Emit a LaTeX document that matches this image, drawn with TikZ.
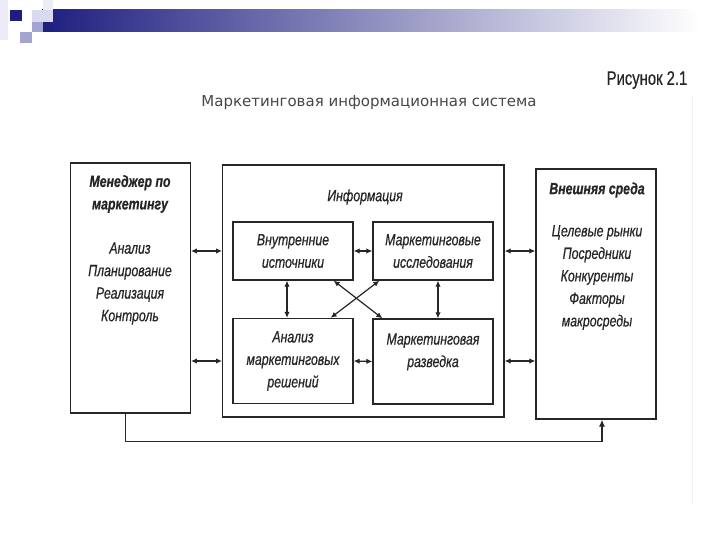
\documentclass[tikz,border=0pt]{standalone}
\usepackage{fontspec}
\usepackage{tikz}
\usepackage{xcolor}
\setmainfont{Liberation Sans}
\newfontfamily\uzki[FakeStretch=0.76, FakeBold=0.5]{Liberation Sans}
\newfontfamily\tytulfont{DejaVu Sans}
\usetikzlibrary{arrows.meta}
\definecolor{tusz}{HTML}{262626}
\definecolor{granat}{HTML}{1E1E80}
\definecolor{lilaA}{HTML}{DADAEE}
\definecolor{lilaB}{HTML}{A4A4D2}
\definecolor{lilaC}{HTML}{ECECF6}
\definecolor{szary}{HTML}{A8A8BE}

\begin{document}
\begin{tikzpicture}[
  x=1pt, y=-1pt,
  font=\uzki\itshape\fontsize{16.2}{22.5}\selectfont,
  ramka/.style={draw=tusz, line width=1.3pt, minimum width=120pt, inner sep=0},
  opis/.style={text=tusz, align=center},
  naglowek/.style={opis, font=\uzki\bfseries\itshape\fontsize{16.2}{22.5}\selectfont},
  strz/.style={draw=tusz, line width=1.2pt, {Latex[length=6pt,width=5.5pt]}-{Latex[length=6pt,width=5.5pt]}},
]
\fill[white] (0,0) rectangle (720,540);
\useasboundingbox (0,0) rectangle (720,540);
% Pasek u gory
\fill[lilaC] (0,0) rectangle (8,40);
\shade[left color=granat, middle color=szary, right color=white] (42,10) rectangle (700,32);
\fill[lilaC] (43,0) rectangle (53,10);
\fill[lilaA] (32,10) rectangle (53,22);
\fill[lilaB] (32,22) rectangle (43,32);
\fill[lilaB] (20,32) rectangle (32,43);
\fill[granat] (10,10) rectangle (22,21);
\draw[gray!10, line width=1pt] (692,95) -- (692,505);
% Tytul
\node[font=\uzki\fontsize{19.5}{22}\selectfont, text=tusz] (rys) at (647,80) {Рисунок 2.1};
\node[font=\tytulfont\fontsize{15}{17}\selectfont, text=tusz!85] (tytul) at (369,103) {Маркетинговая информационная система};
% Bloki zewnetrzne
\node[ramka, minimum height=250pt] (mgr) at (130.3,288) {};
\node[ramka, minimum width=281.3pt, minimum height=252pt] (info) at (363.3,291) {};
\node[ramka, minimum height=250pt] (env) at (596,294) {};
\node[naglowek] (mgrT) at (130,194) {Менеджер по\\маркетингу};
\node[opis] (mgrL) at (130,283.5) {Анализ\\Планирование\\Реализация\\Контроль};
\node[naglowek] (envT) at (597,190) {Внешняя среда};
\node[opis] (envL) at (597,277.5) {Целевые рынки\\Посредники\\Конкуренты\\Факторы\\макросреды};
\node[opis] (infoT) at (365,197) {Информация};
% Bloki wewnetrzne
\node[ramka, opis, minimum height=58pt] (src) at (293,251) {Внутренние\\источники};
\node[ramka, opis, minimum height=58pt] (res) at (433,251) {Маркетинговые\\исследования};
\node[ramka, opis, minimum height=85pt] (ana) at (293,361) {Анализ\\маркетинговых\\решений};
\node[ramka, opis, minimum height=85pt] (intl) at (433,361.5) {Маркетинговая\\разведка\\\mbox{}};
% Strzalki
\draw[strz] (mgr.east |- src) -- (info.west |- src);
\draw[strz] (mgr.east |- ana) -- (info.west |- ana);
\draw[strz] (info.east |- src) -- (env.west |- src);
\draw[strz] (info.east |- ana) -- (env.west |- ana);
\draw[strz] (src.east) -- (res.west);
\draw[strz] (ana.east) -- (intl.west);
\draw[strz] ([xshift=-6pt]src.south) -- ([xshift=-6pt]ana.north);
\draw[strz] ([xshift=5pt]res.south) -- ([xshift=5pt]intl.north);
\draw[strz] ([xshift=-20pt]src.south east) -- ([xshift=10pt]intl.north west);
\draw[strz] ([xshift=7pt]res.south west) -- ([xshift=-23pt]ana.north east);
\draw[draw=tusz, line width=1.2pt, -{Latex[length=7pt,width=6pt]}] ([xshift=-5pt]mgr.south) -- ++(0,28) -| ([xshift=6pt]env.south);
\end{tikzpicture}
\end{document}
